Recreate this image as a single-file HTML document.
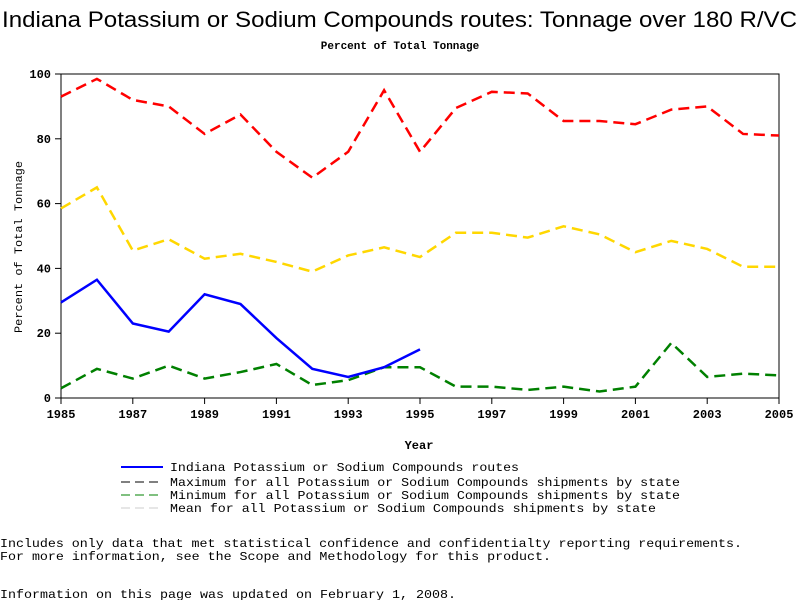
<!DOCTYPE html>
<html><head><meta charset="utf-8"><style>
body{margin:0;background:#fff;}
svg{display:block;}
text{font-family:"Liberation Mono",monospace;}
</style></head><body>
<svg id="chart" width="800" height="600" xmlns="http://www.w3.org/2000/svg">
<text x="2" y="27" textLength="795" lengthAdjust="spacingAndGlyphs" style="font-family:'Liberation Sans',sans-serif" font-size="22">Indiana Potassium or Sodium Compounds routes: Tonnage over 180 R/VC</text>
<text x="400" y="49" text-anchor="middle" font-size="11" font-weight="bold">Percent of Total Tonnage</text>
<rect x="61" y="74" width="718" height="324" fill="none" stroke="#000" stroke-width="1"/>
<g id="axes"></g>
<g id="series"></g>
<text x="419" y="449" text-anchor="middle" font-size="12" font-weight="bold">Year</text>
<text transform="translate(22,333) rotate(-90)" textLength="172" lengthAdjust="spacingAndGlyphs" font-size="11">Percent of Total Tonnage</text>
<g font-size="12">
<line x1="121" y1="467" x2="163" y2="467" stroke="#0000ff" stroke-width="2"/>
<text x="170" y="471" textLength="349" lengthAdjust="spacingAndGlyphs">Indiana Potassium or Sodium Compounds routes</text>
<line x1="121" y1="482" x2="163" y2="482" stroke="#000" stroke-width="1" stroke-dasharray="9,5"/>
<text x="170" y="486" textLength="510" lengthAdjust="spacingAndGlyphs">Maximum for all Potassium or Sodium Compounds shipments by state</text>
<line x1="121" y1="495" x2="163" y2="495" stroke="#008000" stroke-width="1" stroke-dasharray="9,5"/>
<text x="170" y="499" textLength="510" lengthAdjust="spacingAndGlyphs">Minimum for all Potassium or Sodium Compounds shipments by state</text>
<line x1="121" y1="508" x2="163" y2="508" stroke="#ccc" stroke-width="1" stroke-dasharray="9,5"/>
<text x="170" y="512" textLength="486" lengthAdjust="spacingAndGlyphs">Mean for all Potassium or Sodium Compounds shipments by state</text>
</g>
<g font-size="12">
<text x="0" y="547" textLength="742" lengthAdjust="spacingAndGlyphs">Includes only data that met statistical confidence and confidentialty reporting requirements.</text>
<text x="0" y="560" textLength="551" lengthAdjust="spacingAndGlyphs">For more information, see the Scope and Methodology for this product.</text>
<text x="0" y="598" textLength="456" lengthAdjust="spacingAndGlyphs">Information on this page was updated on February 1, 2008.</text>
</g>
</svg>
<script>
const years=[1985,1986,1987,1988,1989,1990,1991,1992,1993,1994,1995,1996,1997,1998,1999,2000,2001,2002,2003,2004,2005];
const maxVals=[93,98.5,92,90,81.5,87.5,76,68,76,95,76,89.5,94.5,94,85.5,85.5,84.5,89,90,81.5,81];
const meanVals=[58.5,65,45.5,49,43,44.5,42,39,44,46.5,43.5,51,51,49.5,53,50.5,45,48.5,46,40.5,40.5];
const minVals=[3,9,6,10,6,8,10.5,4,5.5,9.5,9.5,3.5,3.5,2.5,3.5,2,3.5,17,6.5,7.5,7];
const indianaVals=[29.5,36.5,23,20.5,32,29,18.5,9,6.5,9.5,15];
const xTicks=[1985,1987,1989,1991,1993,1995,1997,1999,2001,2003,2005];
const yTicks=[0,20,40,60,80,100];
const NS="http://www.w3.org/2000/svg";
const X=v=>61+(v-1985)*(718/20);
const Y=v=>398-v*3.24;
const axes=document.getElementById('axes'), ser=document.getElementById('series');
function mk(tag,attrs,parent){const e=document.createElementNS(NS,tag);for(const k in attrs)e.setAttribute(k,attrs[k]);parent.appendChild(e);return e;}
xTicks.forEach(t=>{
 const l=mk('line',{x1:X(t),x2:X(t),y1:398,y2:404,stroke:'#000'},axes);
 
 
 const tx=mk('text',{x:X(t),y:418,'text-anchor':'middle','font-size':12,'font-weight':'bold'},axes);
 tx.textContent=t;
 
 
});
yTicks.forEach(t=>{
 const l=mk('line',{x1:55,x2:61,y1:Y(t),y2:Y(t),stroke:'#000'},axes);
 
 
 const tx=mk('text',{x:51,y:Y(t)+4,'text-anchor':'end','font-size':12,'font-weight':'bold'},axes);
 tx.textContent=t;
 
 
});
function line(vals,color,dash,name){
 const pts=vals.map((v,i)=>X(years[i])+','+Y(v)).join(' ');
 const p=mk('polyline',{points:pts,fill:'none',stroke:color,'stroke-width':2.5,'stroke-dasharray':dash},ser);
 
 
}
line(maxVals,'#ff0000','11,6','max-line');
line(meanVals,'#ffd700','11,6','mean-line');
line(minVals,'#008000','11,6','min-line');
line(indianaVals,'#0000ff','none','indiana-line');
</script>
</body></html>
